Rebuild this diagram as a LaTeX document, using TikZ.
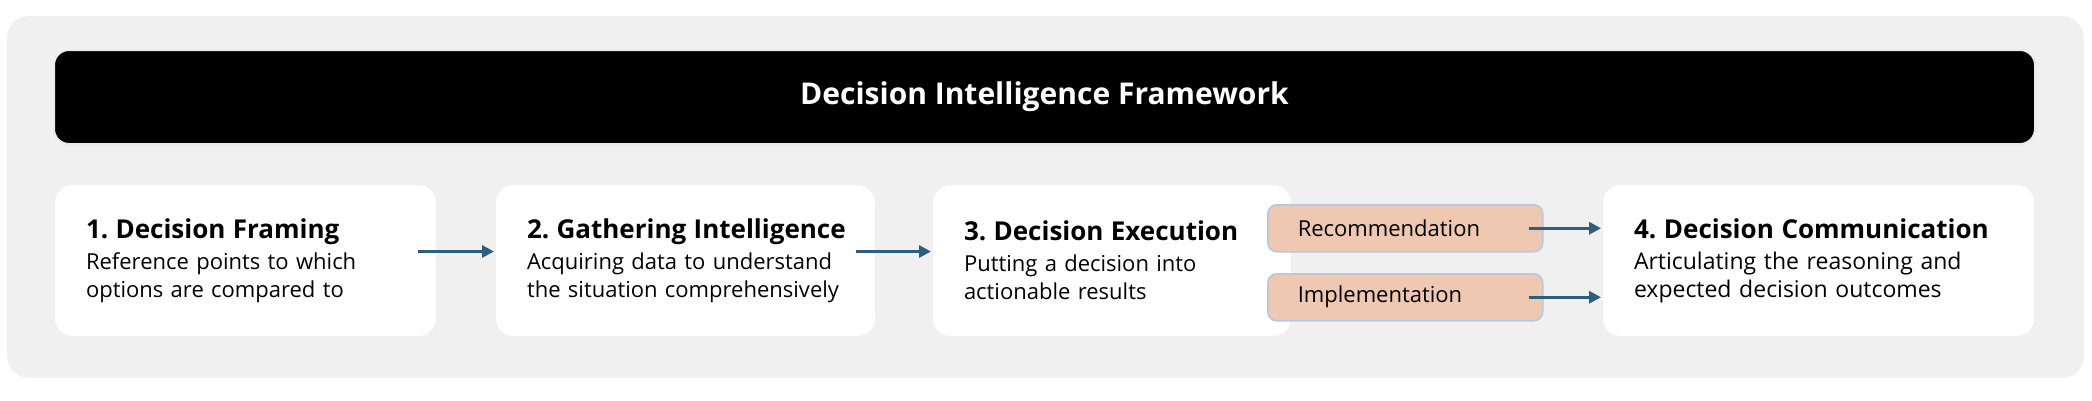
\documentclass[tikz,border=0pt]{standalone}
\usepackage{fontspec}
\setmainfont{Open Sans}[Ligatures=NoCommon]
\usetikzlibrary{arrows.meta}
\definecolor{panelgray}{HTML}{F0F0F0}
\definecolor{arrowblue}{HTML}{2E5E7E}
\definecolor{peach}{HTML}{EEC8B0}
\definecolor{peachline}{HTML}{B4C8E6}
\frenchspacing
\tikzset{
  stage/.style={draw=black!6, line width=2pt, fill=white, rounded corners=18pt,
    anchor=north west, minimum height=153pt, inner xsep=32pt, align=left,
    font=\fontsize{22}{28}\selectfont},
  outcome/.style={draw=peachline, line width=1.5pt, fill=peach, rounded corners=9pt,
    anchor=north west, minimum height=47pt, minimum width=275pt, inner xsep=30pt,
    text width=215pt, align=left, font=\fontsize{22}{26}\selectfont},
  flow/.style={draw=arrowblue, line width=3pt, -{Triangle[length=12pt,width=12pt]}},
}
\newcommand{\stagehead}[1]{\mbox{\fontsize{26}{30}\selectfont\bfseries #1}\\[3pt]}
\begin{document}
\begin{tikzpicture}[x=1pt,y=-1pt]
	\useasboundingbox (0,0) rectangle (2092,400);
	\fill[panelgray, rounded corners=22pt] (7,16) rectangle (2084,378);

	\node[draw=black!8, line width=2pt, fill=black, rounded corners=15pt, anchor=north west,
		minimum width=1981pt, minimum height=94pt, text=white,
		font=\fontsize{30}{36}\selectfont\bfseries] (title) at (53,49) {Decision Intelligence Framework};

	\node[stage, minimum width=383pt, text width=319pt] (framing) at (53,183)
		{\stagehead{1. Decision Framing}Reference points to which\\options are compared to};
	\node[stage, minimum width=381pt, text width=317pt] (gather) at (494,183)
		{\stagehead{2. Gathering Intelligence}Acquiring data to understand\\the situation comprehensively};
	\node[stage, minimum width=360pt, text width=296pt] (execute) at (931,183)
		{\stagehead{3. Decision Execution}Putting a decision into\\actionable results};
	\node[stage, minimum width=433pt, text width=369pt, font=\fontsize{23}{28}\selectfont] (communicate) at (1601,183)
		{\stagehead{4. Decision Communication}Articulating the reasoning and\\expected decision outcomes};

	\node[outcome] (recommend) at (1267,204) {Recommendation};
	\node[outcome] (implement) at (1267,273) {Implementation};

	\draw[flow] ([xshift=-20pt,yshift=9pt]framing.east) -- ([yshift=9pt]gather.west);
	\draw[flow] ([xshift=-21pt,yshift=9pt]gather.east) -- ([yshift=9pt]execute.west);
	\draw[flow] ([xshift=-15pt]recommend.east) -- (recommend.east -| communicate.west);
	\draw[flow] ([xshift=-15pt]implement.east) -- (implement.east -| communicate.west);
\end{tikzpicture}
\end{document}
